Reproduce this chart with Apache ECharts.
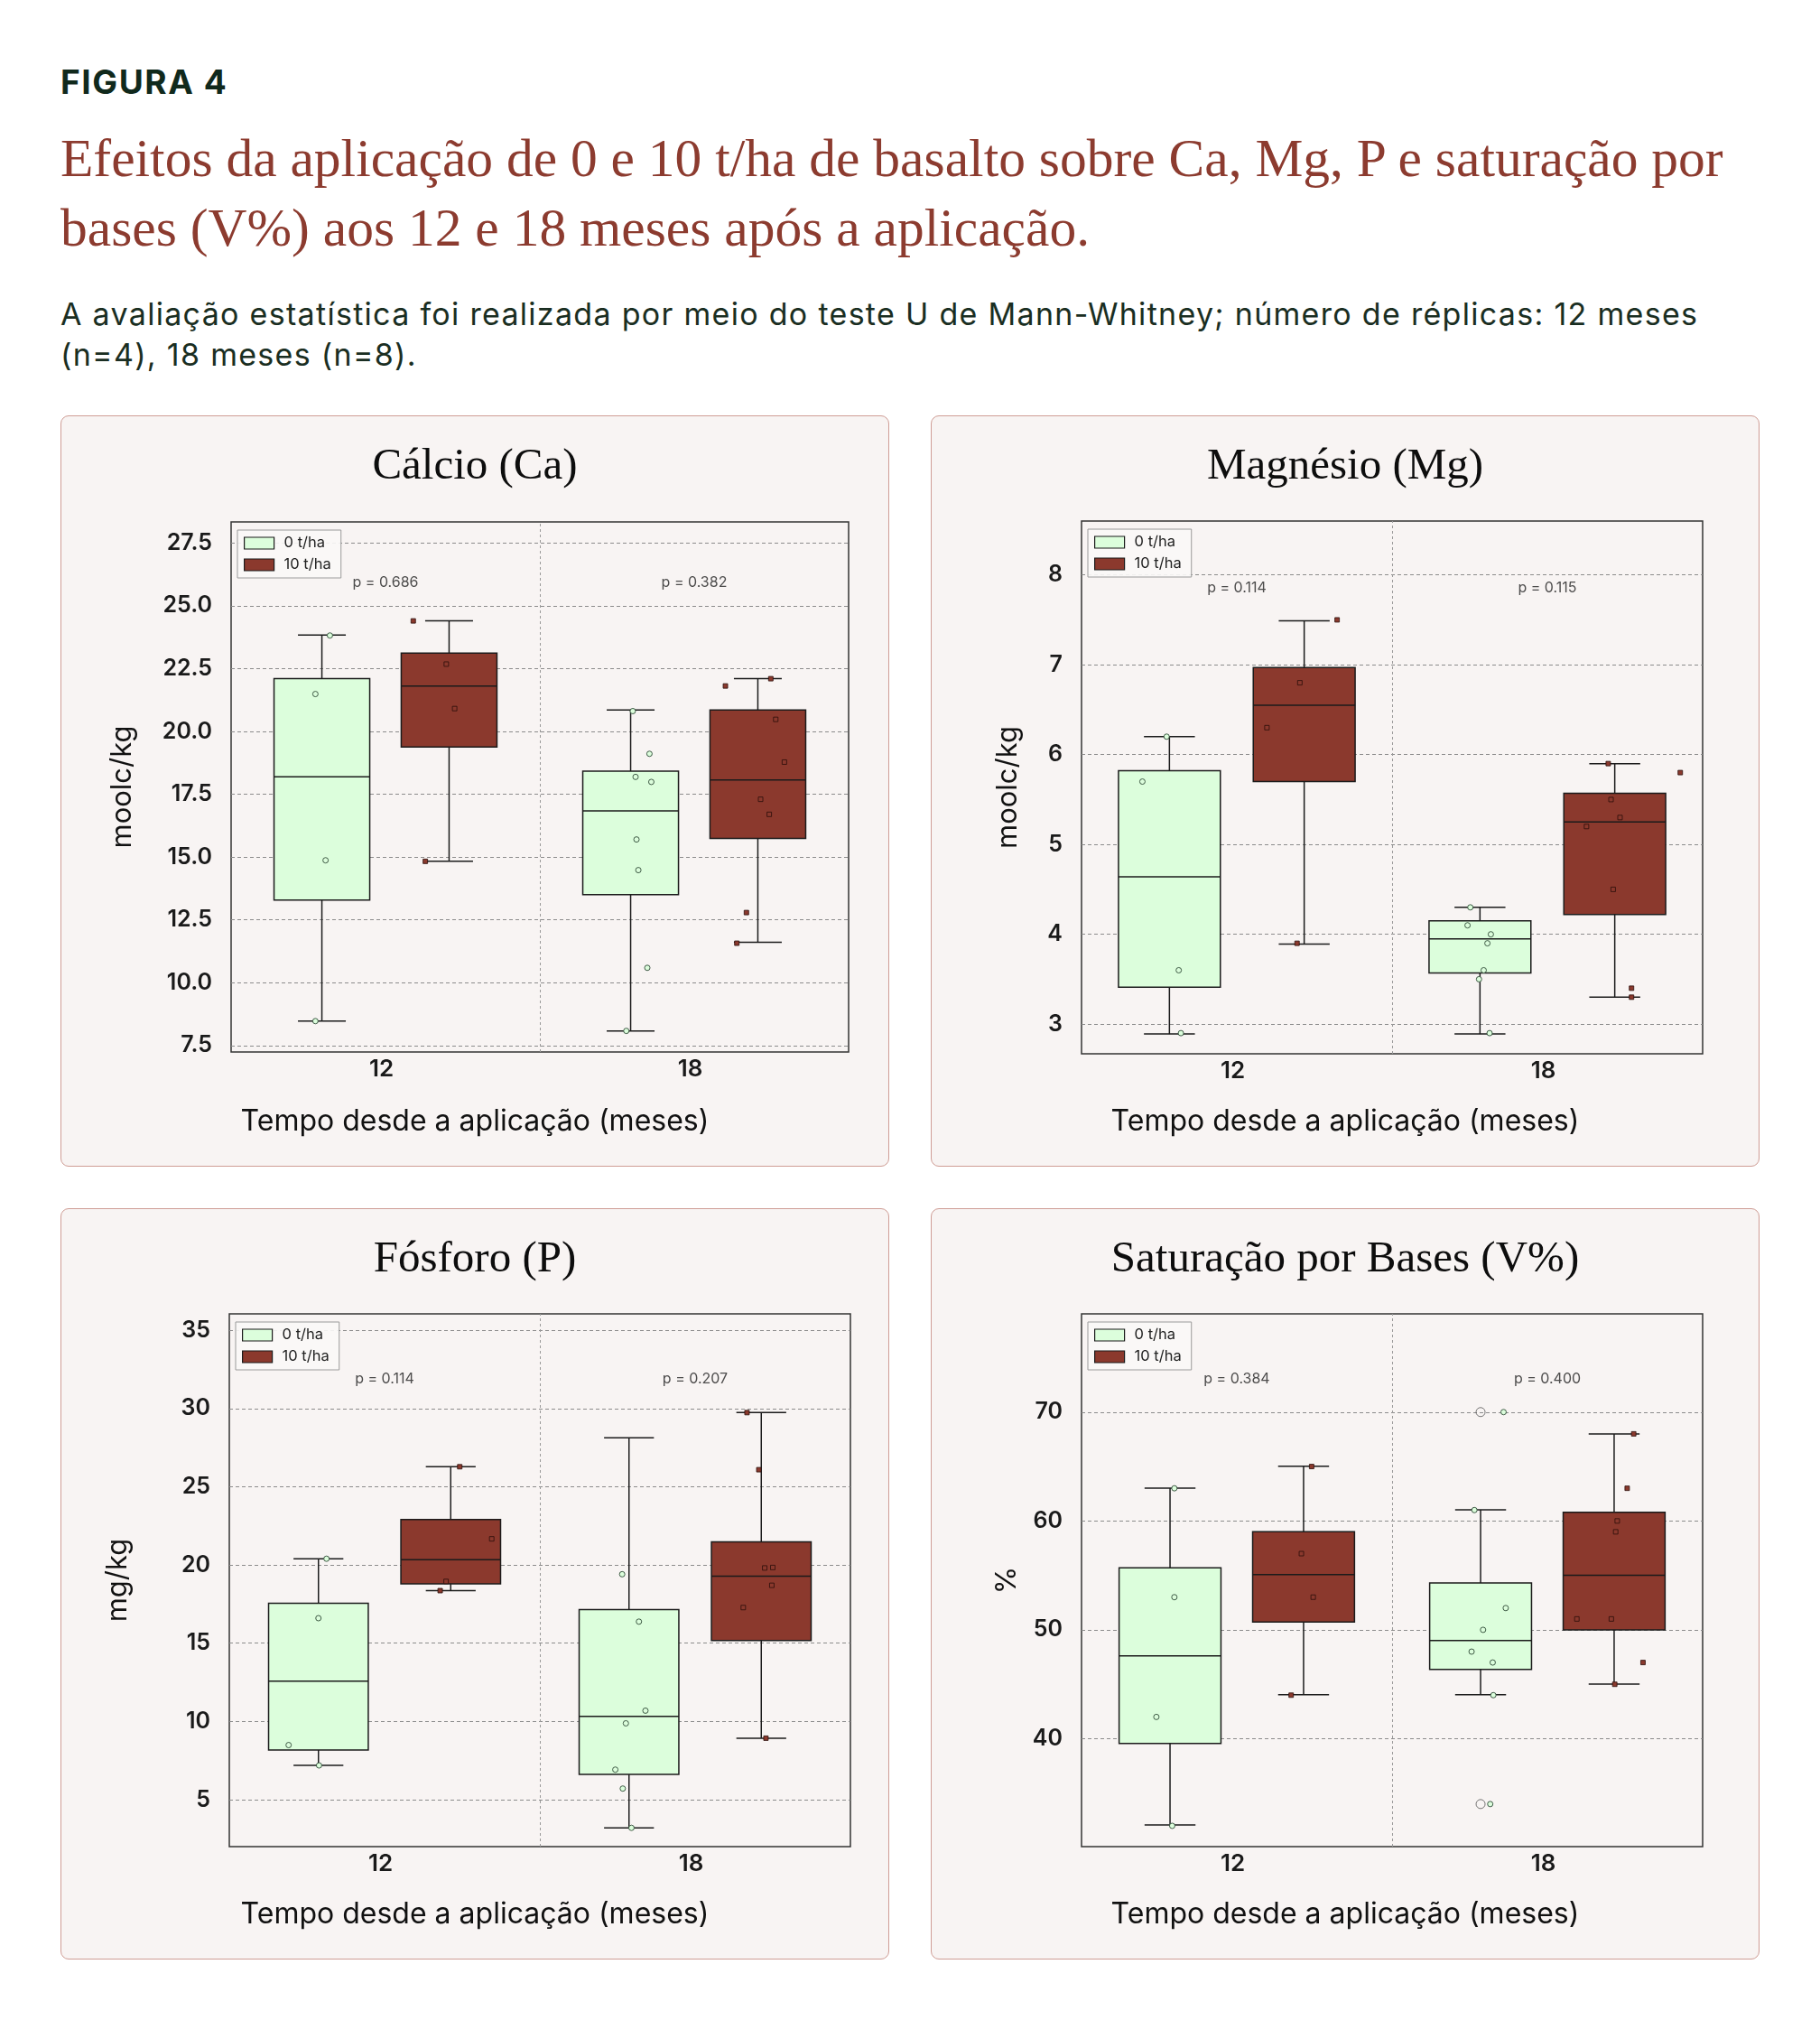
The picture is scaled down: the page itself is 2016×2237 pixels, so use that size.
<!DOCTYPE html>
<html lang="pt">
<head>
<meta charset="utf-8">
<title>Figura 4</title>
<script src="https://cdn.jsdelivr.net/npm/echarts@6/dist/echarts.min.js"></script>
<style>
  html, body { margin: 0; padding: 0; background: #fff; }
  body { width: 2016px; height: 2237px; position: relative; overflow: hidden; }
  .kicker { position: absolute; left: 67px; top: 69px; font: 700 37px/44px Inter, sans-serif; color: #10291c; letter-spacing: 1.6px; }
  h1 { position: absolute; left: 67px; top: 137px; margin: 0; font: 400 59.5px/77px "Liberation Serif", serif; color: #8c3b2f; white-space: nowrap; }
  .sub { position: absolute; left: 67px; top: 326px; margin: 0; font: 400 34px/44.6px Inter, sans-serif; color: #1a2e22; letter-spacing: 1.3px; white-space: nowrap; }
  .panel { position: absolute; width: 918px; height: 832px; box-sizing: border-box; border: 1.5px solid #cf9d95; border-radius: 9px; background: #f8f4f3; }
  .panel > div { position: absolute; left: -1.5px; top: -1.5px; width: 918px; height: 832px; }
</style>
</head>
<body>
<div class="kicker">FIGURA 4</div>
<h1>Efeitos da aplicação de 0 e 10 t/ha de basalto sobre Ca, Mg, P e saturação por<br>bases (V%) aos 12 e 18 meses após a aplicação.</h1>
<p class="sub">A avaliação estatística foi realizada por meio do teste U de Mann-Whitney; número de réplicas: 12 meses<br>(n=4), 18 meses (n=8).</p>

<div class="panel" style="left:67px;top:460px"><div id="ca"></div></div>
<div class="panel" style="left:1031px;top:460px"><div id="mg"></div></div>
<div class="panel" style="left:67px;top:1338px"><div id="p"></div></div>
<div class="panel" style="left:1031px;top:1338px"><div id="v"></div></div>

<script>
const months = ['12', '18']
const doses = ['0 t/ha', '10 t/ha']
const xName = 'Tempo desde a aplicação (meses)'

// box = [min, Q1, mediana, Q3, max] por mês (12, 18)
// Cálcio
const caBox0 = [[8.47, 13.29, 18.19, 22.10, 23.84], [8.08, 13.50, 16.84, 18.42, 20.85]]
const caBox10 = [[14.83, 19.38, 21.81, 23.12, 24.40], [11.61, 15.74, 18.07, 20.85, 22.10]]
const caPts0 = [[23.82, 21.49, 14.87, 8.47], [20.81, 19.11, 18.19, 17.99, 15.70, 14.48, 10.59, 8.08]]
const caJit0 = [[0.026, -0.021, 0.012, -0.021], [0.007, 0.061, 0.016, 0.067, 0.019, 0.025, 0.054, -0.014]]
const caPts10 = [[24.40, 22.68, 20.91, 14.83], [22.10, 21.81, 20.48, 18.78, 17.30, 16.70, 12.79, 11.57]]
const caJit10 = [[-0.116, -0.009, 0.018, -0.077], [0.042, -0.105, 0.058, 0.086, 0.009, 0.037, -0.037, -0.068]]
const caPvals = ['p = 0.686', 'p = 0.382']
const caTicks = [7.5, 10, 12.5, 15, 17.5, 20, 22.5, 25, 27.5]

// Magnésio
const mgBox0 = [[2.89, 3.41, 4.64, 5.82, 6.20], [2.89, 3.57, 3.95, 4.15, 4.30]]
const mgBox10 = [[3.89, 5.70, 6.55, 6.97, 7.49], [3.30, 4.22, 5.25, 5.57, 5.90]]
const mgPts0 = [[6.2, 5.7, 3.6, 2.9], [4.3, 4.1, 4.0, 3.9, 3.6, 3.5, 2.9]]
const mgJit0 = [[-0.009, -0.087, 0.030, 0.037], [-0.031, -0.040, 0.035, 0.024, 0.012, -0.003, 0.031]]
const mgPts10 = [[7.5, 6.8, 6.3, 3.9], [5.9, 5.8, 5.5, 5.3, 5.2, 4.5, 3.4, 3.3]]
const mgJit10 = [[0.106, -0.014, -0.120, -0.023], [-0.021, 0.211, -0.012, 0.017, -0.091, -0.005, 0.054, 0.054]]
const mgPvals = ['p = 0.114', 'p = 0.115']
const mgTicks = [3, 4, 5, 6, 7, 8]

// Fósforo
const pBox0 = [[7.19, 8.18, 12.58, 17.55, 20.40], [3.20, 6.61, 10.32, 17.15, 28.13]]
const pBox10 = [[18.36, 18.79, 20.34, 22.91, 26.28], [8.93, 15.17, 19.29, 21.48, 29.74]]
const pPts0 = [[20.40, 16.60, 8.49, 7.19], [19.41, 16.38, 10.69, 9.88, 6.92, 5.71, 3.20]]
const pJit0 = [[0.026, 0.000, -0.096, 0.002], [-0.022, 0.032, 0.053, -0.010, -0.044, -0.020, 0.008]]
const pPts10 = [[26.28, 21.67, 18.95, 18.36], [29.74, 26.09, 19.84, 19.81, 18.70, 17.28, 8.93]]
const pJit10 = [[0.029, 0.132, -0.015, -0.034], [-0.046, -0.008, 0.037, 0.011, 0.034, -0.058, 0.015]]
const pPvals = ['p = 0.114', 'p = 0.207']
const pTicks = [5, 10, 15, 20, 25, 30, 35]

// Saturação por bases
const vBox0 = [[32.09, 39.56, 47.60, 55.69, 63.02], [44.04, 46.36, 49.02, 54.31, 61.02]]
const vBox10 = [[44.04, 50.71, 55.07, 59.02, 65.02], [45.02, 50.00, 55.02, 60.80, 68.00]]
const vPts0 = [[63, 53, 42, 32], [70, 61, 52, 50, 48, 47, 44, 34]]
const vJit0 = [[0.014, 0.014, -0.044, 0.007], [0.074, -0.020, 0.081, 0.008, -0.029, 0.039, 0.041, 0.031]]
const vPts10 = [[65, 57, 53, 44], [68, 63, 60, 59, 51, 51, 47, 45]]
const vJit10 = [[0.026, -0.007, 0.031, -0.040], [0.063, 0.042, 0.010, 0.005, -0.120, -0.009, 0.093, 0.002]]
const vFliers0 = [[], [70, 34]]
const vPvals = ['p = 0.384', 'p = 0.400']
const vTicks = [40, 50, 60, 70]

const fills = ['#dcfedc', '#8b392d']
const edge = '#1b1b1b'
const sans = 'Inter, "Noto Sans", sans-serif'

function boxRenderer(fill, w) {
  return (params, api) => {
    const x = api.value(0)
    const [xl, yq3] = api.coord([x - w / 2, api.value(4)])
    const [xr, yq1] = api.coord([x + w / 2, api.value(2)])
    const [xc, ymed] = api.coord([x, api.value(3)])
    const ylo = api.coord([x, api.value(1)])[1]
    const yhi = api.coord([x, api.value(5)])[1]
    const cl = api.coord([x - w / 4, 0])[0]
    const cr = api.coord([x + w / 4, 0])[0]
    const ln = { stroke: edge, lineWidth: 1.5 }
    return {
      type: 'group',
      children: [
        { type: 'line', shape: { x1: xc, y1: yq3, x2: xc, y2: yhi }, style: ln },
        { type: 'line', shape: { x1: xc, y1: yq1, x2: xc, y2: ylo }, style: ln },
        { type: 'line', shape: { x1: cl, y1: yhi, x2: cr, y2: yhi }, style: ln },
        { type: 'line', shape: { x1: cl, y1: ylo, x2: cr, y2: ylo }, style: ln },
        { type: 'rect', shape: { x: xl, y: yq3, width: xr - xl, height: yq1 - yq3 }, style: { fill, stroke: edge, lineWidth: 1.5 } },
        { type: 'line', shape: { x1: xl, y1: ymed, x2: xr, y2: ymed }, style: ln },
      ],
    }
  }
}

function panelOption(c) {
  const series = []
  ;[c.box0, c.box10].forEach((boxes, d) => {
    const pts = d ? c.pts10 : c.pts0
    const jit = d ? c.jit10 : c.jit0
    const center = (m) => m + (d ? c.off : -c.off)
    series.push({
      name: doses[d],
      type: 'custom',
      z: 2,
      itemStyle: { color: fills[d], borderColor: edge, borderWidth: 1.2 },
      renderItem: boxRenderer(fills[d], c.boxW),
      encode: { x: 0, y: [1, 2, 3, 4, 5] },
      data: boxes.map((b, m) => [center(m), ...b]),
    })
    series.push({
      name: doses[d] + ' pontos',
      type: 'scatter',
      z: 4,
      symbol: d ? 'rect' : 'circle',
      symbolSize: d ? 5 : 6,
      itemStyle: d
        ? { color: '#8b392d', borderColor: '#2a0e0a', borderWidth: 0.8, opacity: 1 }
        : { color: '#dcfedc', borderColor: '#2e4a36', borderWidth: 0.9, opacity: 1 },
      data: pts.flatMap((vals, m) => vals.map((v, k) => [center(m) + jit[m][k], v])),
    })
    const fl = d ? c.fliers10 : c.fliers0
    if (fl) {
      series.push({
        name: doses[d] + ' outliers',
        type: 'scatter',
        z: 3,
        symbol: 'circle',
        symbolSize: 10,
        itemStyle: { color: 'rgba(0,0,0,0)', borderColor: '#555', borderWidth: 1 },
        data: fl.flatMap((vals, m) => vals.map((v) => [center(m), v])),
      })
    }
  })
  series.push({
    name: 'p',
    type: 'scatter',
    z: 5,
    symbolSize: 0,
    silent: true,
    label: {
      show: true,
      position: 'inside',
      formatter: (p) => c.pvals[p.dataIndex],
      fontFamily: sans,
      fontSize: 16,
      color: '#222',
    },
    data: months.map((_, m) => [m, c.pY]),
    markLine: {
      silent: true,
      symbol: ['none', 'none'],
      label: { show: false },
      lineStyle: { color: '#9a9a9a', type: [3, 3], width: 1 },
      data: [{ xAxis: 0.5 }],
    },
  })

  return {
    animation: false,
    title: [
      {
        text: c.title,
        left: 'center',
        top: 33,
        padding: 0,
        textStyle: { fontFamily: '"Liberation Serif", serif', fontSize: 49, fontWeight: 'normal', color: '#0d0d0d', lineHeight: 49 },
      },
      {
        text: xName,
        left: 'center',
        top: 766,
        padding: 0,
        textStyle: { fontFamily: sans, fontSize: 32, fontWeight: 'normal', color: '#111', lineHeight: 32 },
      },
    ],
    legend: {
      orient: 'vertical',
      left: c.grid.left + 7,
      top: c.grid.top + 9,
      padding: [6, 11, 6, 7],
      itemGap: 7,
      itemWidth: 33,
      itemHeight: 13,
      backgroundColor: 'rgba(250,248,247,0.9)',
      borderColor: '#9a9a9a',
      borderWidth: 1,
      borderRadius: 0,
      selectedMode: false,
      textStyle: { fontFamily: sans, fontSize: 16.5, color: '#222', padding: [0, 0, 0, 6] },
      data: doses.map((n, d) => ({ name: n, icon: 'rect', itemStyle: { color: fills[d], borderColor: edge, borderWidth: 1.2 } })),
    },
    grid: {
      left: c.grid.left,
      top: c.grid.top,
      width: c.grid.width,
      height: c.grid.height,
      show: true,
      borderColor: '#333',
      borderWidth: 1.5,
      backgroundColor: 'transparent',
    },
    xAxis: {
      type: 'value',
      min: -0.5,
      max: 1.5,
      axisLine: { show: false },
      axisTick: { show: false, customValues: [0, 1] },
      splitLine: { show: false },
      axisLabel: {
        customValues: [0, 1],
        formatter: (v) => months[Math.round(v)],
        fontFamily: sans,
        fontSize: 26,
        fontWeight: 600,
        color: '#1a1a1a',
        margin: 6,
        padding: [0, 9, 0, 0],
      },
    },
    yAxis: {
      type: 'value',
      min: c.range[0],
      max: c.range[1],
      name: c.yName,
      nameLocation: 'middle',
      nameGap: c.nameGap,
      nameTextStyle: { fontFamily: sans, fontSize: 31, color: '#111' },
      axisLine: { show: false },
      axisTick: { show: false, customValues: c.ticks },
      axisLabel: {
        customValues: c.ticks,
        formatter: (v) => v.toFixed(c.decimals),
        fontFamily: sans,
        fontSize: 25,
        fontWeight: 600,
        color: '#1a1a1a',
        margin: 21,
      },
      splitLine: { show: true, lineStyle: { color: '#8c8c8c', type: [4, 3], width: 1 } },
    },
    series,
  }
}

const panels = [
  {
    id: 'ca', title: 'Cálcio (Ca)', yName: 'moolc/kg', decimals: 1,
    box0: caBox0, box10: caBox10, pts0: caPts0, jit0: caJit0, pts10: caPts10, jit10: caJit10,
    pvals: caPvals, ticks: caTicks, range: [7.24, 28.34], pY: 25.94,
    grid: { left: 189, top: 118, width: 684, height: 587 }, nameGap: 105, off: 0.206, boxW: 0.31,
  },
  {
    id: 'mg', title: 'Magnésio (Mg)', yName: 'moolc/kg', decimals: 0,
    box0: mgBox0, box10: mgBox10, pts0: mgPts0, jit0: mgJit0, pts10: mgPts10, jit10: mgJit10,
    pvals: mgPvals, ticks: mgTicks, range: [2.67, 8.6], pY: 7.855,
    grid: { left: 167, top: 117, width: 688, height: 590 }, nameGap: 66, off: 0.217, boxW: 0.328,
  },
  {
    id: 'p', title: 'Fósforo (P)', yName: 'mg/kg', decimals: 0,
    box0: pBox0, box10: pBox10, pts0: pPts0, jit0: pJit0, pts10: pPts10, jit10: pJit10,
    pvals: pPvals, ticks: pTicks, range: [2.0, 36.05], pY: 31.88,
    grid: { left: 187, top: 117, width: 688, height: 590 }, nameGap: 108, off: 0.213, boxW: 0.321,
  },
  {
    id: 'v', title: 'Saturação por Bases (V%)', yName: '%', decimals: 0,
    box0: vBox0, box10: vBox10, pts0: vPts0, jit0: vJit0, pts10: vPts10, jit10: vJit10,
    fliers0: vFliers0,
    pvals: vPvals, ticks: vTicks, range: [30.09, 79.02], pY: 73.02,
    grid: { left: 167, top: 117, width: 688, height: 590 }, nameGap: 67, off: 0.215, boxW: 0.328,
  },
]

panels.forEach((c) => {
  echarts.init(document.getElementById(c.id)).setOption(panelOption(c))
})
</script>
</body>
</html>
